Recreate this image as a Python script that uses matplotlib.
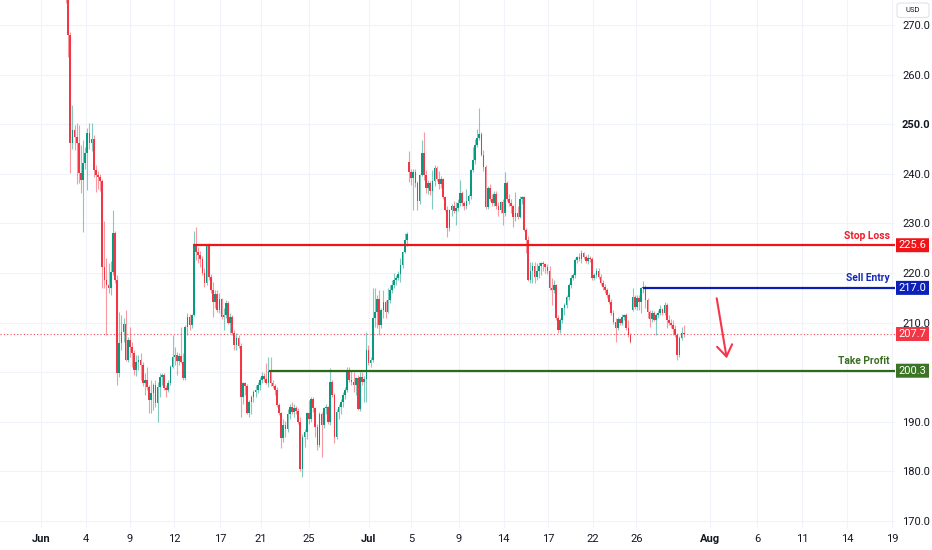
import matplotlib
matplotlib.use("Agg")
import matplotlib.pyplot as plt
from matplotlib.transforms import blended_transform_factory
from matplotlib.patches import FancyBboxPatch
import numpy as np

# ---------------- data (1h candles) ----------------
opens = [
    279.0, 275.0, 268.0, 246.2, 248.8, 247.4, 246.2, 240.2, 238.8, 242.2,
    244.2, 248.2, 246.2, 247.0, 240.8, 239.8, 239.4, 238.5, 221.2, 218.6,
    217.6, 217.0, 220.2, 228.0, 218.6, 199.8, 205.9, 208.1, 209.8, 202.5,
    206.5, 205.1, 203.9, 200.4, 202.0, 202.5, 201.5, 197.8, 198.5, 197.0,
    194.4, 195.8, 197.5, 193.8, 197.1, 199.1, 199.4, 196.8, 196.5, 197.8,
    201.1, 203.1, 203.5, 202.3, 203.3, 202.0, 198.8, 209.2, 211.2, 209.5,
    211.5, 225.6, 224.3, 223.6, 222.8, 220.0, 218.0, 225.6, 219.2, 216.5,
    214.2, 215.8, 212.5, 214.8, 211.1, 211.5, 213.9, 210.0, 211.2, 207.9,
    205.5, 206.8, 205.2, 195.0, 197.8, 197.3, 191.8, 194.0, 195.0, 196.0,
    196.5, 197.5, 198.5, 199.3, 198.6, 197.8, 200.3, 197.8, 197.2, 196.5,
    193.4, 191.8, 186.7, 189.4, 188.5, 191.5, 193.0, 192.0, 192.8, 192.2,
    190.0, 180.5, 187.0, 188.0, 191.8, 190.5, 194.5, 192.8, 189.0, 185.3,
    191.5, 189.4, 192.8, 193.0, 190.0, 198.1, 195.4, 187.0, 192.0, 193.0,
    194.0, 195.5, 196.5, 200.5, 198.5, 198.0, 197.5, 198.8, 192.6, 199.1,
    198.0, 198.6, 204.5, 201.9, 202.5, 210.9, 212.2, 214.8, 209.5, 212.5,
    214.2, 212.2, 214.6, 216.6, 217.5, 218.5, 219.0, 219.8, 221.6, 224.2,
    226.7, 242.4, 240.4, 239.2, 240.4, 238.2, 234.5, 239.8, 244.2, 239.8,
    237.1, 238.1, 236.5, 238.5, 241.2, 239.0, 238.0, 239.0, 235.3, 232.7,
    229.1, 232.8, 233.5, 232.5, 233.2, 234.2, 236.1, 234.1, 233.5, 234.5,
    235.5, 240.8, 242.8, 245.8, 247.2, 248.0, 243.8, 241.4, 233.3, 237.1,
    235.0, 234.2, 236.0, 233.5, 232.7, 234.3, 232.0, 238.1, 235.0, 234.1,
    233.5, 231.3, 232.0, 231.2, 235.0, 235.3, 228.7, 226.7, 218.6, 220.5,
    221.5, 219.2, 220.5, 221.5, 222.0, 221.8, 221.3, 220.5, 217.0, 216.6,
    217.5, 211.0, 208.5, 210.5, 212.9, 213.5, 215.2, 217.6, 219.0, 219.5,
    222.6, 223.2, 222.8, 224.0, 223.3, 222.5, 223.0, 222.8, 219.0, 219.5,
    220.5, 219.2, 218.0, 217.2, 216.5, 215.5, 214.2, 212.0, 210.1, 209.0,
    210.8, 210.0, 211.2, 211.5, 209.0, 207.5, 212.5, 215.2, 213.2, 215.0,
    214.2, 217.0, 217.2, 214.6, 212.1, 210.8, 211.9, 210.5, 211.5, 212.0,
    212.8, 212.0, 213.5, 210.5, 210.0, 209.5, 208.8, 207.5, 203.5, 206.9,
    207.9,
]
highs = [
    281.0, 276.0, 268.5, 253.9, 249.9, 250.2, 249.9, 245.8, 246.8, 245.5,
    249.2, 250.2, 250.2, 247.8, 241.8, 240.6, 240.0, 239.0, 230.5, 223.0,
    222.0, 222.5, 232.7, 228.5, 219.5, 212.2, 211.6, 211.0, 212.5, 207.0,
    209.1, 206.0, 204.5, 203.5, 203.5, 203.9, 202.0, 199.8, 201.1, 197.5,
    198.4, 197.8, 198.5, 198.0, 199.8, 199.8, 199.8, 197.5, 198.5, 201.5,
    207.5, 205.0, 204.0, 203.8, 209.2, 203.9, 209.5, 211.9, 211.8, 211.8,
    228.4, 229.3, 225.3, 224.5, 223.5, 221.0, 225.9, 226.0, 219.8, 218.2,
    216.5, 216.5, 216.0, 215.0, 213.0, 214.5, 214.4, 212.0, 211.6, 208.5,
    208.0, 207.5, 205.8, 198.0, 198.0, 197.6, 194.4, 195.5, 196.5, 197.5,
    198.0, 199.0, 200.0, 199.8, 201.9, 203.1, 203.1, 198.5, 197.6, 197.0,
    193.8, 192.0, 190.5, 190.2, 192.5, 193.5, 194.0, 193.5, 193.2, 192.8,
    191.0, 187.5, 188.5, 192.0, 194.4, 195.0, 195.0, 193.0, 189.5, 192.0,
    192.0, 193.0, 193.5, 193.2, 200.9, 198.5, 195.8, 192.5, 193.5, 194.5,
    196.0, 197.0, 201.0, 201.0, 200.5, 200.0, 199.0, 199.5, 200.1, 200.0,
    199.2, 208.2, 205.5, 203.0, 217.0, 217.0, 215.5, 216.6, 213.0, 216.6,
    214.5, 217.0, 217.5, 218.5, 220.0, 219.5, 220.5, 223.0, 224.5, 228.0,
    228.2, 244.5, 241.0, 241.0, 241.0, 238.5, 240.0, 246.8, 248.5, 240.8,
    238.8, 238.5, 240.8, 241.8, 241.5, 240.5, 239.5, 239.2, 235.5, 233.5,
    233.0, 234.0, 234.5, 234.4, 235.0, 238.8, 236.5, 234.5, 237.0, 236.0,
    241.0, 245.5, 247.0, 249.0, 253.2, 248.5, 244.8, 241.8, 237.5, 238.0,
    236.0, 236.5, 236.5, 234.3, 234.5, 235.0, 240.4, 238.5, 236.0, 235.0,
    233.8, 236.4, 233.5, 235.5, 235.6, 235.6, 229.1, 227.5, 222.3, 222.3,
    222.3, 222.0, 222.3, 222.3, 222.5, 222.0, 221.8, 221.5, 218.9, 218.5,
    217.8, 211.5, 211.0, 213.0, 214.0, 215.5, 218.0, 219.5, 220.0, 223.0,
    223.5, 224.0, 224.6, 224.3, 223.6, 223.8, 223.5, 223.2, 220.0, 221.0,
    221.0, 219.8, 218.5, 217.8, 217.0, 216.0, 214.8, 212.5, 211.0, 211.2,
    211.0, 211.8, 211.8, 212.0, 210.5, 208.0, 217.0, 215.5, 215.5, 215.5,
    217.2, 218.3, 217.5, 215.0, 212.5, 212.5, 212.4, 212.0, 212.5, 213.5,
    213.0, 214.2, 214.0, 211.5, 210.8, 210.5, 209.5, 208.0, 207.2, 209.2,
    209.5,
]
lows = [
    274.5, 263.5, 240.2, 245.0, 244.8, 238.0, 238.1, 236.1, 228.3, 241.0,
    236.7, 245.0, 244.5, 239.4, 236.4, 237.0, 236.5, 217.0, 217.0, 207.5,
    216.0, 215.5, 219.5, 218.0, 197.4, 199.0, 204.5, 206.0, 202.2, 202.0,
    203.1, 201.0, 199.5, 199.2, 200.5, 198.4, 197.2, 195.5, 196.4, 191.8,
    191.8, 192.4, 193.0, 190.0, 195.0, 197.5, 196.5, 195.0, 196.0, 197.5,
    200.8, 201.5, 199.4, 201.5, 201.8, 198.5, 198.5, 207.5, 208.5, 209.0,
    211.3, 222.7, 222.0, 221.3, 219.5, 217.2, 217.5, 218.5, 216.0, 211.2,
    213.0, 212.2, 212.0, 210.8, 208.5, 211.0, 209.8, 207.9, 207.5, 204.5,
    204.5, 204.8, 191.0, 193.5, 195.5, 191.5, 191.0, 191.5, 194.0, 195.0,
    195.8, 196.5, 197.8, 198.0, 197.6, 197.0, 197.2, 196.8, 195.5, 193.0,
    191.4, 184.7, 186.0, 187.0, 188.0, 190.5, 191.5, 191.0, 191.5, 189.5,
    180.0, 178.9, 185.0, 186.5, 189.5, 190.0, 192.0, 187.0, 184.3, 185.0,
    183.0, 188.8, 191.5, 189.5, 189.4, 195.0, 185.7, 186.5, 190.5, 191.5,
    193.0, 194.5, 196.0, 198.0, 197.5, 196.0, 195.5, 192.4, 192.2, 197.5,
    194.0, 194.0, 201.5, 201.0, 202.0, 209.2, 209.0, 207.5, 209.0, 210.9,
    211.0, 212.0, 214.0, 216.0, 217.0, 217.5, 218.5, 218.2, 221.0, 224.0,
    225.5, 238.4, 237.7, 232.7, 237.4, 232.7, 234.0, 239.5, 238.8, 236.1,
    236.0, 235.8, 233.0, 237.5, 238.5, 237.0, 237.2, 235.0, 232.5, 227.3,
    228.5, 231.5, 232.0, 229.7, 232.5, 233.5, 233.5, 232.8, 233.0, 234.0,
    235.0, 240.4, 242.0, 245.5, 246.8, 243.5, 240.5, 233.0, 233.0, 234.5,
    233.5, 233.5, 233.0, 231.4, 232.0, 229.7, 231.5, 234.5, 233.5, 232.0,
    229.3, 230.5, 230.8, 231.0, 234.0, 228.5, 224.0, 218.3, 218.0, 218.0,
    218.0, 218.5, 219.0, 219.5, 220.5, 220.0, 219.8, 216.6, 213.5, 216.0,
    210.5, 207.9, 208.0, 210.0, 211.5, 213.0, 214.5, 217.0, 218.5, 219.0,
    222.0, 222.5, 222.0, 222.8, 222.0, 221.8, 222.2, 218.6, 218.5, 219.0,
    218.8, 217.5, 216.5, 216.0, 215.0, 213.8, 211.5, 209.8, 206.1, 208.5,
    209.5, 209.5, 210.5, 208.5, 207.0, 205.8, 212.3, 212.8, 212.5, 212.5,
    212.0, 216.0, 213.0, 211.0, 209.2, 210.2, 210.3, 207.5, 211.0, 211.5,
    211.5, 211.5, 209.0, 209.5, 209.0, 207.5, 207.0, 202.5, 203.0, 206.5,
    207.0,
]
closes = [
    275.0, 268.0, 246.2, 248.8, 247.4, 246.2, 240.2, 238.8, 242.2, 244.2,
    248.2, 246.2, 247.0, 240.8, 239.8, 239.4, 238.5, 221.2, 218.6, 217.6,
    217.0, 220.2, 228.0, 218.6, 199.8, 205.9, 208.1, 209.8, 202.5, 206.5,
    205.1, 203.9, 200.4, 202.0, 202.5, 201.5, 197.8, 198.5, 197.0, 194.4,
    195.8, 197.5, 193.8, 197.1, 199.1, 199.4, 196.8, 196.5, 197.8, 201.1,
    203.1, 203.5, 202.3, 203.3, 202.0, 198.8, 209.2, 211.2, 209.5, 211.5,
    225.6, 224.3, 223.6, 222.8, 220.0, 218.0, 225.6, 219.2, 216.5, 214.2,
    215.8, 212.5, 214.8, 211.1, 211.5, 213.9, 210.0, 211.2, 207.9, 205.5,
    206.8, 205.2, 195.0, 197.8, 197.3, 191.8, 194.0, 195.0, 196.0, 196.5,
    197.5, 198.5, 199.3, 198.6, 197.8, 200.3, 197.8, 197.2, 196.5, 193.4,
    191.8, 186.7, 189.4, 188.5, 191.5, 193.0, 192.0, 192.8, 192.2, 190.0,
    180.5, 187.0, 188.0, 191.8, 190.5, 194.5, 192.8, 189.0, 185.3, 191.5,
    189.4, 192.8, 193.0, 190.0, 198.1, 195.4, 187.0, 192.0, 193.0, 194.0,
    195.5, 196.5, 200.5, 198.5, 198.0, 197.5, 198.8, 192.6, 199.1, 198.0,
    198.6, 204.5, 201.9, 202.5, 210.9, 212.2, 214.8, 209.5, 212.5, 214.2,
    212.2, 214.6, 216.6, 217.5, 218.5, 219.0, 219.8, 221.6, 224.2, 226.7,
    227.8, 240.4, 239.2, 240.4, 238.2, 234.5, 239.8, 244.2, 239.8, 237.1,
    238.1, 236.5, 238.5, 241.2, 239.0, 238.0, 239.0, 235.3, 232.7, 229.1,
    232.8, 233.5, 232.5, 233.2, 234.2, 236.1, 234.1, 233.5, 234.5, 235.5,
    240.8, 242.8, 245.8, 247.2, 248.0, 243.8, 241.4, 233.3, 237.1, 235.0,
    234.2, 236.0, 233.5, 232.7, 234.3, 232.0, 238.1, 235.0, 234.1, 233.5,
    231.3, 232.0, 231.2, 235.0, 235.3, 228.7, 226.7, 218.6, 220.5, 221.5,
    219.2, 220.5, 221.5, 222.0, 221.8, 221.3, 220.5, 217.0, 216.6, 217.5,
    211.0, 208.5, 210.5, 212.9, 213.5, 215.2, 217.6, 219.0, 219.5, 222.6,
    223.2, 222.8, 224.0, 223.3, 222.5, 223.0, 222.8, 219.0, 219.5, 220.5,
    219.2, 218.0, 217.2, 216.5, 215.5, 214.2, 212.0, 210.1, 209.0, 210.8,
    210.0, 211.2, 211.5, 209.0, 207.5, 206.1, 215.2, 213.2, 215.0, 214.2,
    217.0, 217.2, 214.6, 212.1, 210.8, 211.9, 210.5, 211.5, 212.0, 212.8,
    212.0, 213.5, 210.5, 210.0, 209.5, 208.8, 207.5, 203.5, 206.9, 207.9,
    207.7,
]

# time axis labels (bar-index positions of TradingView's tick marks)
time_tick_labels = ["Jun", "4", "9", "12", "17", "21", "25", "Jul", "5", "9",
                    "14", "17", "22", "26", "Aug", "6", "11", "14", "19"]
time_tick_index = [-11.9, 9.2, 29.9, 50.9, 72.2, 91.5, 114.0, 142.1, 162.0, 184.4,
                   205.4, 226.2, 247.2, 267.7, 302.2, 324.6, 345.7, 366.7, 387.7]
month_labels = {"Jun", "Jul", "Aug"}

price_ticks = [170, 180, 190, 200, 210, 220, 230, 240, 250, 260, 270]
hidden_price_labels = {200}   # covered by the Take Profit price tag

# trade levels drawn on the chart
level_names = ["Stop Loss", "Sell Entry", "Take Profit"]
level_values = [225.6, 217.0, 200.3]
level_start_index = [59.7, 270.7, 95.3]
last_price = 207.7

# arrow drawing (bar index, price)
arrow_from = (305.5, 214.9)
arrow_to = (310.2, 202.8)

# ---------------- style ----------------
UP = "#089981"
DOWN = "#F23645"
level_line_colors = ["#F01414", "#0A1DB5", "#2E6A15"]
level_text_colors = ["#EE1C2A", "#1429B8", "#3B6E22"]
level_box_colors = ["#F01418", "#0B20B8", "#3A7424"]
GRID = "#F0F3FA"
TEXT = "#131722"

plt.rcParams["font.family"] = ["Roboto", "DejaVu Sans"]

W, H = 932, 550
fig = plt.figure(figsize=(W / 100, H / 100), dpi=100)
fig.patch.set_facecolor("white")
pane_right = 895
pane_bottom = 528
ax = fig.add_axes([0, (H - pane_bottom) / H, pane_right / W, pane_bottom / H])
ax.set_facecolor("white")

o = np.array(opens)
h = np.array(highs)
l = np.array(lows)
c = np.array(closes)
x = np.arange(len(c))
up = c >= o
cols = np.where(up, UP, DOWN)

ax.vlines(x, l, h, colors=cols, linewidth=0.8, alpha=0.5, zorder=3)
body_bottom = np.minimum(o, c)
body_h = np.maximum(np.abs(c - o), 0.2)
ax.bar(x, body_h, bottom=body_bottom, width=0.78, color=cols, linewidth=0, zorder=4)

# axes limits: pixel x = 66 + 2.13*index ; price y = 270 at 25 px, 4.96 px / unit
ax.set_xlim(-31.0, 389.2)
ax.set_ylim(168.59, 275.04)

for s in ax.spines.values():
    s.set_visible(False)

ax.set_xticks(time_tick_index)
ax.set_xticklabels(time_tick_labels)
for lab in ax.get_xticklabels():
    lab.set_fontsize(8)
    lab.set_color(TEXT)
    if lab.get_text() in month_labels:
        lab.set_fontweight("bold")
ax.tick_params(axis="x", length=0, pad=4.5)

ax.yaxis.tick_right()
ax.set_yticks(price_ticks)
ax.set_yticklabels(["" if v in hidden_price_labels else f"{v:.1f}" for v in price_ticks])
for lab in ax.get_yticklabels():
    lab.set_fontsize(8)
    lab.set_color(TEXT)
    if lab.get_text() == "250.0":
        lab.set_fontweight("bold")
ax.tick_params(axis="y", length=0, pad=5)

ax.grid(True, color=GRID, linewidth=0.8, zorder=0)
ax.set_axisbelow(True)

# last price dotted line
ax.axhline(last_price, color=DOWN, linestyle=(0, (1, 2)), linewidth=0.8, alpha=0.9, zorder=2)

# level lines
for val, start, lc in zip(level_values, level_start_index, level_line_colors):
    ax.hlines(val, start, 389.2, color=lc, linewidth=1.6, zorder=5)

bt = blended_transform_factory(fig.transFigure, ax.transData)
for name, val, tc in zip(level_names, level_values, level_text_colors):
    ax.text(890 / W, val + 1.9, name, transform=bt, ha="right", va="center",
            fontsize=7.4, fontweight="bold", color=tc, zorder=6)

# price tags on the scale
box_h = 14 / 4.96
tags = list(zip(level_values, level_box_colors)) + [(last_price, DOWN)]
for val, bc in tags:
    r = FancyBboxPatch((896 / W, val - box_h / 2), 33 / W, box_h,
                       boxstyle="round,pad=0,rounding_size=0.002",
                       transform=bt, facecolor=bc, edgecolor="none",
                       clip_on=False, zorder=10)
    fig.add_artist(r)
    fig.text(912.5 / W, val, f"{val:.1f}", transform=bt, ha="center", va="center",
             fontsize=8, color="white", zorder=11)

# USD box
ub = FancyBboxPatch((897 / W, 1 - 17.5 / H), 32 / W, 14.5 / H,
                    boxstyle="round,pad=0,rounding_size=0.004",
                    transform=fig.transFigure, facecolor="white",
                    edgecolor="#E0E3EB", linewidth=0.8)
fig.add_artist(ub)
fig.text(913 / W, 1 - 10.2 / H, "USD", ha="center", va="center", fontsize=5.5, color=TEXT)

# arrow
ax.annotate("", xy=arrow_to, xytext=arrow_from,
            arrowprops=dict(arrowstyle="->,head_length=0.8,head_width=0.55",
                            color="#F5364C", lw=1.5, shrinkA=0, shrinkB=0,
                            mutation_scale=10),
            zorder=7)

fig.savefig("out.png", dpi=100, facecolor="white")
